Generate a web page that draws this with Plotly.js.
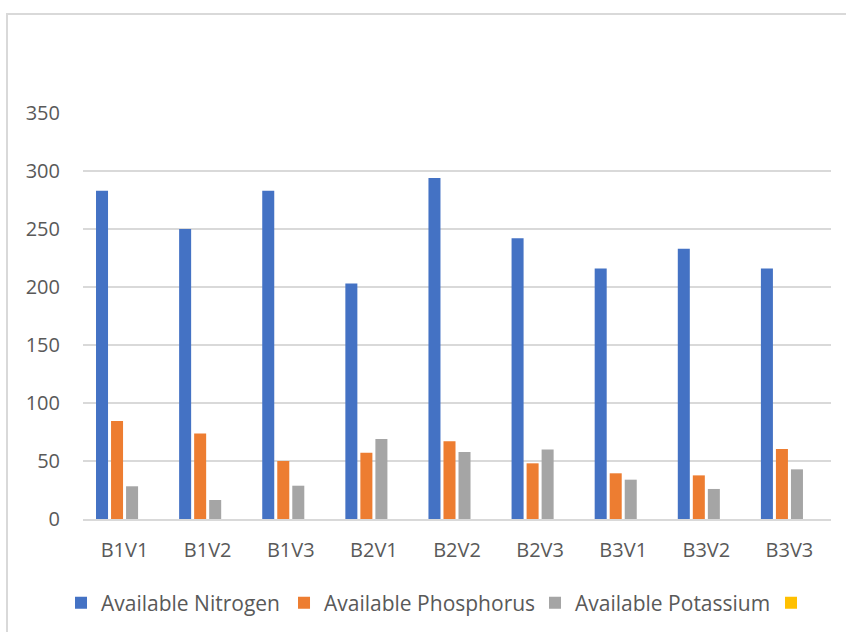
<!DOCTYPE html>
<html>
<head>
<meta charset="utf-8">
<script src="https://cdn.plot.ly/plotly-3.0.1.min.js"></script>
<style>
  html, body { margin: 0; padding: 0; background: #fff; overflow: hidden; }
  #frame { position: absolute; left: 6px; top: 13px; width: 900px; height: 700px; border-left: 2px solid #d9d9d9; border-top: 2px solid #d9d9d9; box-sizing: border-box; pointer-events: none; z-index: 5; }
  #chart { position: absolute; left: 0; top: 0; width: 846px; height: 632px; }
</style>
</head>
<body>
<div id="chart"></div>
<div id="frame"></div>
<script>
const categories = ['B1V1', 'B1V2', 'B1V3', 'B2V1', 'B2V2', 'B2V3', 'B3V1', 'B3V2', 'B3V3'];
const nitrogen   = [283, 250, 283, 203, 294, 242, 216, 233, 216];
const phosphorus = [84.5, 73.6, 50, 57.2, 67, 48, 39.4, 37.6, 60.3];
const potassium  = [28.2, 16.4, 28.7, 69, 57.8, 60, 33.9, 25.9, 42.8];
const emptySeries = [null, null, null, null, null, null, null, null, null];
const seriesNames = ['Available Nitrogen', 'Available Phosphorus', 'Available Potassium', ' '];
const yTicks = [0, 50, 100, 150, 200, 250, 300, 350];

const colors = ['#4472C4', '#ED7D31', '#A5A5A5', '#FFC000'];
const legendWidths = [178, 206, 191, 8];
const allSeries = [nitrogen, phosphorus, potassium, emptySeries];

const traces = allSeries.map((vals, i) => ({
  type: 'bar',
  x: categories,
  y: vals,
  name: seriesNames[i],
  legendwidth: legendWidths[i],
  marker: { color: colors[i] },
  hoverinfo: 'x+y+name'
}));

const layout = {
  width: 846,
  height: 632,
  margin: { l: 83, r: 15, t: 113, b: 113, autoexpand: false },
  paper_bgcolor: '#ffffff',
  plot_bgcolor: '#ffffff',
  barmode: 'group',
  bargap: 0.277,
  bargroupgap: 0.2,
  font: { family: 'Open Sans, sans-serif', color: '#595959', size: 20 },
  xaxis: {
    type: 'category',
    tickfont: { size: 20, color: '#595959' },
    showgrid: false,
    showline: true,
    linecolor: '#d9d9d9',
    linewidth: 1.5,
    ticks: '',
    ticklabelstandoff: 12,
    fixedrange: true
  },
  yaxis: {
    range: [0, 350],
    tickvals: yTicks,
    ticktext: yTicks.map(String),
    tickfont: { size: 20, color: '#595959' },
    showgrid: true,
    gridcolor: '#d9d9d9',
    gridwidth: 1.5,
    zeroline: false,
    showline: false,
    ticks: '',
    ticklabelstandoff: 22,
    fixedrange: true
  },
  showlegend: true,
  legend: {
    orientation: 'h',
    x: -0.0294,
    xanchor: 'left',
    y: -0.207,
    yanchor: 'middle',
    font: { size: 21, color: '#595959' },
    traceorder: 'normal',
    itemwidth: 30
  }
};

Plotly.newPlot('chart', traces, layout, { displayModeBar: false, staticPlot: true });
</script>
</body>
</html>
